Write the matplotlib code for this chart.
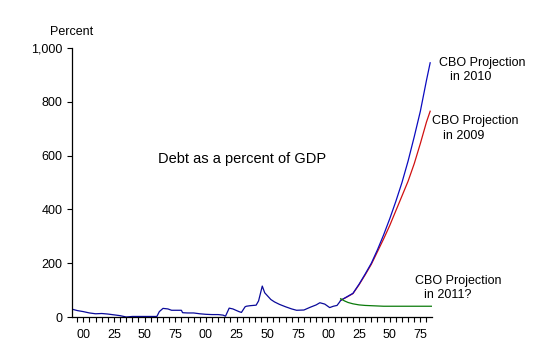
import matplotlib
matplotlib.use('Agg')
import matplotlib.pyplot as plt
from matplotlib.ticker import MultipleLocator, FuncFormatter

plt.rcParams['font.family'] = ['Liberation Sans', 'DejaVu Sans']

# historical debt, percent of GDP
hist_years = [1790, 1795, 1800, 1805, 1810, 1815, 1820, 1825, 1830, 1835,
              1840, 1845, 1850, 1855, 1860, 1862, 1865, 1869, 1872, 1880,
              1881, 1885, 1890, 1895, 1900, 1905, 1910, 1914, 1916, 1919,
              1922, 1927, 1929, 1932, 1933, 1936, 1941, 1943, 1946, 1948,
              1950, 1953, 1956, 1960, 1965, 1970, 1974, 1980, 1985, 1990,
              1993, 1997, 2001, 2004, 2007, 2009, 2010]
hist_vals = [30, 24, 20, 15, 12, 13, 11, 8, 5, 0,
             2, 2, 2, 2, 2, 20, 32, 30, 25, 25,
             16, 15, 15, 12, 10, 9, 9, 7, 3, 33,
             30, 20, 17, 38, 40, 42, 44, 60, 115, 90,
             80, 65, 56, 47, 38, 30, 25, 26, 36, 45,
             53, 48, 35, 40, 43, 55, 62]

# CBO projections
proj_years = [2010, 2015, 2020, 2025, 2030, 2035, 2040, 2045, 2050, 2055,
              2060, 2065, 2070, 2075, 2080, 2083]
cbo_2010 = [62, 75, 88, 122, 160, 200, 250, 305, 365, 430,
            500, 580, 670, 765, 880, 945]
cbo_2009 = [62, 74, 87, 120, 157, 196, 243, 290, 340, 395,
            450, 505, 570, 645, 725, 765]

green_years = [2010, 2013, 2016, 2020, 2025, 2030, 2035, 2040, 2045, 2050,
               2060, 2070, 2084]
cbo_2011 = [68, 60, 54, 49, 45, 43, 42, 41, 40, 40, 40, 40, 40]

W, H = 556, 364
fig = plt.figure(figsize=(W / 100, H / 100), dpi=100)
ax = fig.add_axes([71.7 / W, 47 / H, (432 - 71.7) / W, (317 - 48) / H])


def px(x, y):
    return x / W, 1 - y / H


ax.plot(hist_years, hist_vals, color='#0a0a9a', lw=0.9)
ax.plot(proj_years, cbo_2009, color='#d01010', lw=0.9)
ax.plot(proj_years, cbo_2010, color='#0a0ac0', lw=0.9)
ax.plot(green_years, cbo_2011, color='#0a7a0a', lw=0.9)

ax.set_xlim(1790.5, 2084.5)
ax.set_ylim(0, 1000)
for s in ('top', 'right'):
    ax.spines[s].set_visible(False)
ax.spines['left'].set_linewidth(0.9)
ax.spines['bottom'].set_linewidth(0.9)

ax.xaxis.set_major_locator(MultipleLocator(25))
ax.xaxis.set_minor_locator(MultipleLocator(5))
ax.xaxis.set_major_formatter(FuncFormatter(lambda v, p: f'{int(v) % 100:02d}'))
ax.yaxis.set_major_locator(MultipleLocator(200))
ax.yaxis.set_major_formatter(FuncFormatter(lambda v, p: f'{int(v):,}'))
ax.tick_params(axis='x', which='both', direction='out', length=3.5,
               width=0.8, labelsize=9, pad=5)
ax.tick_params(axis='y', direction='out', length=3.5, width=0.8,
               labelsize=9, pad=3)

fig.text(*px(50, 32), 'Percent', fontsize=9, va='center', ha='left')
fig.text(*px(158, 159), 'Debt as a percent of GDP', fontsize=10.5,
         va='center', ha='left')

fig.text(*px(439, 63), 'CBO Projection', fontsize=9, va='center')
fig.text(*px(450, 77), 'in 2010', fontsize=9, va='center')
fig.text(*px(432, 121), 'CBO Projection', fontsize=9, va='center')
fig.text(*px(443, 136), 'in 2009', fontsize=9, va='center')
fig.text(*px(415, 281), 'CBO Projection', fontsize=9, va='center')
fig.text(*px(424, 295), 'in 2011?', fontsize=9, va='center')

fig.savefig('out.png', dpi=100)
